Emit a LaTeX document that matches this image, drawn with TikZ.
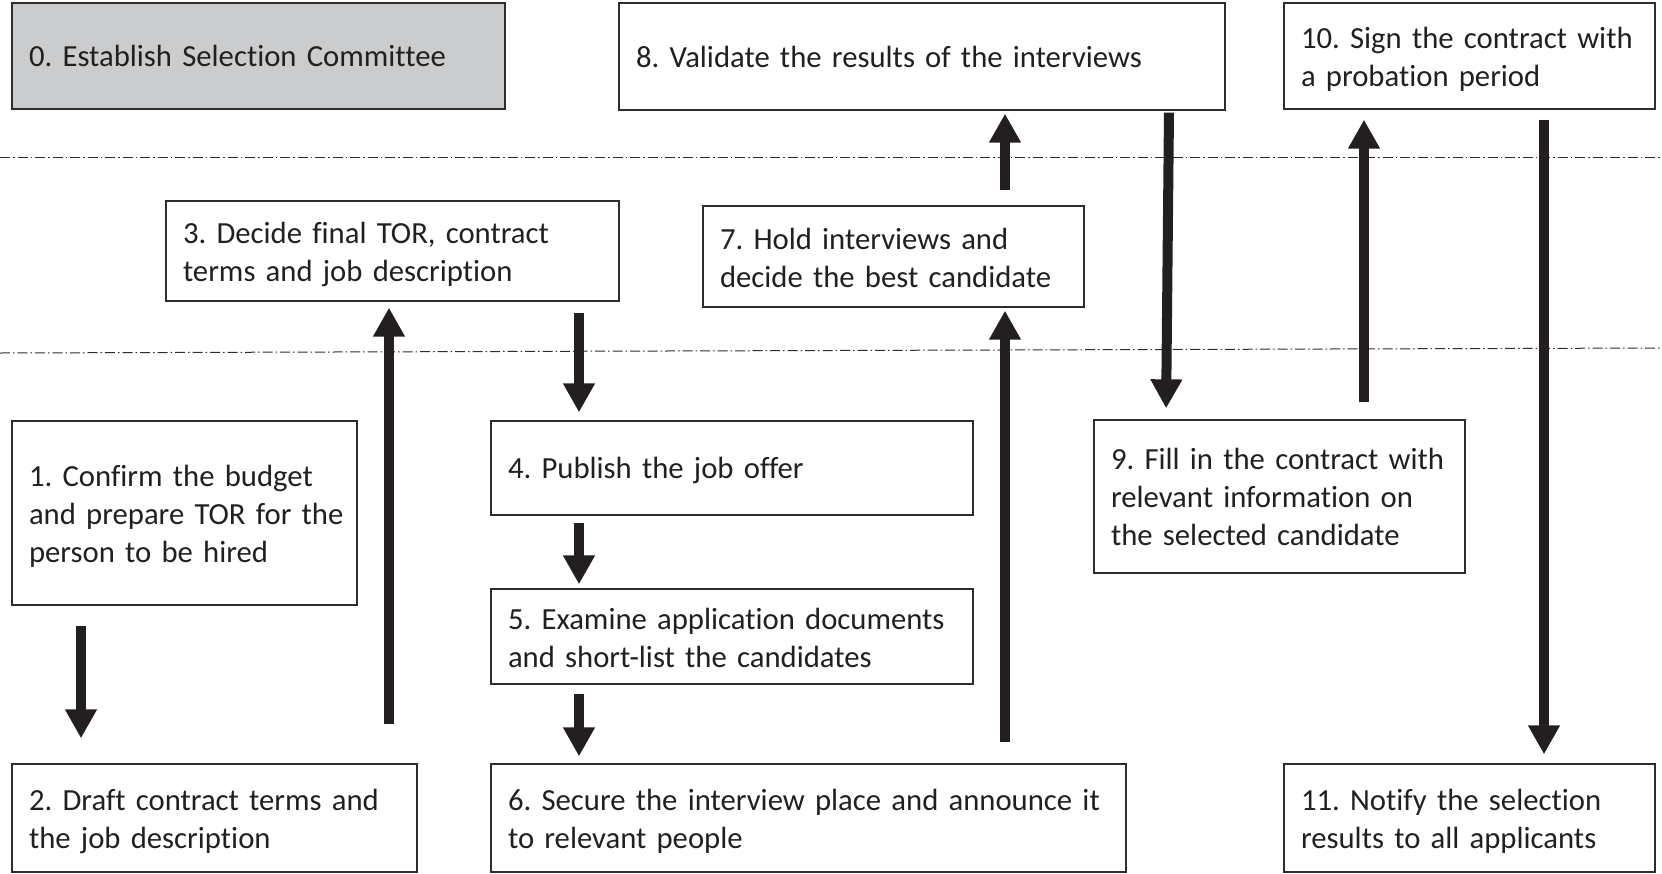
\documentclass[tikz,border=0pt]{standalone}
\usepackage{fontspec}
\setmainfont{Carlito}[Ligatures=CommonOff]
\usetikzlibrary{arrows.meta}
\definecolor{ink}{RGB}{35,31,32}
\definecolor{gray0}{RGB}{203,204,206}
\definecolor{edge}{RGB}{45,45,45}
\frenchspacing
\begin{document}
\begin{tikzpicture}[x=1pt,y=-1pt,
 box/.style={draw=edge, line width=1.3pt, inner xsep=17pt, inner ysep=0pt, align=left,
   font=\fontsize{30.7}{38}\selectfont\frenchspacing, text=ink,
   execute at end node={\endgraf\vspace*{-6pt}}},
 arr/.style={draw=ink, line width=10pt, -{Triangle[width=30pt,length=29pt]}},
 sep/.style={draw=edge, line width=1pt, dash pattern=on 10pt off 3pt on 1.5pt off 3pt}]
\useasboundingbox (0,0) rectangle (1662,873);
% separators
\draw[sep] (0,157) -- (1662,157);
\draw[sep] (0,353) -- (1662,348);
% boxes
\node[box, fill=gray0, text width=459pt, minimum height=106pt] (b0) at (258.5,56) {\mbox{0. Establish Selection Committee}};
\node[box, text width=572pt, minimum height=107pt] (b8) at (922,56.5) {\mbox{8. Validate the results of the interviews}};
\node[box, text width=337pt, minimum height=106pt] (b10) at (1469.5,56) {\mbox{10. Sign the contract with}\\\mbox{a probation period}};
\node[box, text width=419pt, minimum height=100pt] (b3) at (392.5,251) {\mbox{3. Decide final TOR, contract}\\\mbox{terms and job description}};
\node[box, text width=347pt, minimum height=101pt] (b7) at (893.5,256.5) {\mbox{7. Hold interviews and}\\\mbox{decide the best candidate}\vspace*{3pt}};
\node[box, text width=311pt, minimum height=184pt] (b1) at (184.5,513) {\mbox{1. Confirm the budget}\\\mbox{and prepare TOR for the}\\\mbox{person to be hired}};
\node[box, text width=448pt, minimum height=94pt] (b4) at (732,468) {\mbox{4. Publish the job offer}};
\node[box, text width=337pt, minimum height=153pt] (b9) at (1279.5,496.5) {\mbox{9. Fill in the contract with}\\\mbox{relevant information on}\\\mbox{the selected candidate}\vspace*{5pt}};
\node[box, text width=448pt, minimum height=95pt] (b5) at (732,636.5) {\mbox{5. Examine application documents}\\\mbox{and short-list the candidates}\vspace*{3pt}};
\node[box, text width=371pt, minimum height=108pt] (b2) at (214.5,818) {\mbox{2. Draft contract terms and}\\\mbox{the job description}};
\node[box, text width=601pt, minimum height=108pt] (b6) at (808.5,818) {\mbox{6. Secure the interview place and announce it}\\\mbox{to relevant people}};
\node[box, text width=337pt, minimum height=108pt] (b11) at (1469.5,818) {\mbox{11. Notify the selection}\\\mbox{results to all applicants}};
% arrow x positions
\coordinate (x12) at (81,0);
\coordinate (x23) at (389,0);
\coordinate (x345) at (579,0);
\coordinate (x678) at (1005,0);
\coordinate (x89a) at (1169,0);
\coordinate (x89b) at (1166,0);
\coordinate (x910) at (1364,0);
\coordinate (x1011) at (1544,0);
% arrows
\draw[arr, shorten <=20pt, shorten >=25pt] (b1.south -| x12) -- (b2.north -| x12);
\draw[arr, shorten <=39pt, shorten >=6pt] (b2.north -| x23) -- (b3.south -| x23);
\draw[arr, shorten <=11pt, shorten >=8pt] (b3.south -| x345) -- (b4.north -| x345);
\draw[arr, shorten <=7pt, shorten >=4pt] (b4.south -| x345) -- (b5.north -| x345);
\draw[arr, shorten <=9pt, shorten >=7pt] (b5.south -| x345) -- (b6.north -| x345);
\draw[arr, shorten <=21pt, shorten >=3pt] (b6.north -| x678) -- (b7.south -| x678);
\draw[arr, shorten <=15pt, shorten >=3pt] (b7.north -| x678) -- (b8.south -| x678);
\draw[arr, shorten <=2pt, shorten >=11pt] (b8.south -| x89a) -- (b9.north -| x89b);
\draw[arr, shorten <=17pt, shorten >=10pt] (b9.north -| x910) -- (b10.south -| x910);
\draw[arr, shorten <=10pt, shorten >=9pt] (b10.south -| x1011) -- (b11.north -| x1011);
\end{tikzpicture}
\end{document}
